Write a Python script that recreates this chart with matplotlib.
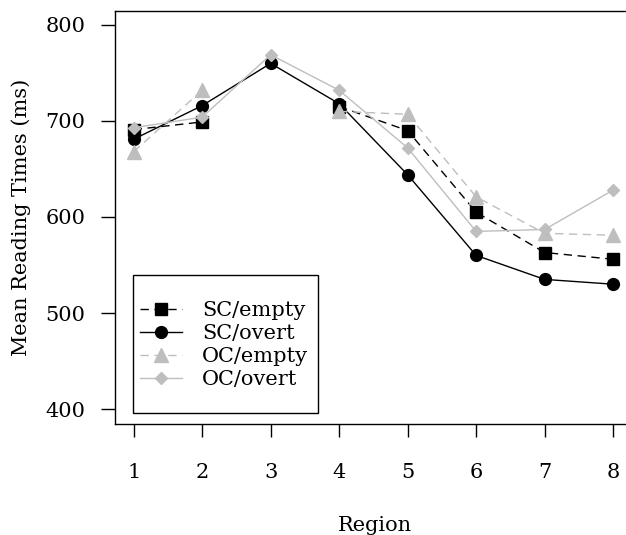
#!/usr/bin/env python
# -*- coding: utf-8 -*-

"""
Mean reading times by region for the four SC/OC conditions.
"""

import numpy as np
import matplotlib
matplotlib.use('Agg')
import matplotlib.pyplot as plt
from matplotlib.patches import Rectangle

regions = [1, 2, 3, 4, 5, 6, 7, 8]

sc_empty = [691, 699, np.nan, 715, 690, 605, 563, 556]
sc_overt = [681, 716, 760, 718, 644, 560, 535, 530]
oc_empty = [668, 732, np.nan, 710, 707, 621, 583, 581]
oc_overt = [693, 704, 769, 732, 672, 585, 587, 628]

GRAY = '#bebebe'


def main():
    plt.rcParams['font.family'] = ['DejaVu Serif']
    plt.rcParams['font.size'] = 15

    fig = plt.figure(figsize=(6.26, 5.35), dpi=100)
    ax = fig.add_axes([0.1832, 0.2075, 0.831, 0.772])

    ax.plot(regions, sc_empty, color='black', ls=(0, (6, 4)), lw=1.0,
            marker='s', ms=8, label='SC/empty')
    ax.plot(regions, sc_overt, color='black', ls='-', lw=1.0,
            marker='o', ms=8.5, label='SC/overt')
    ax.plot(regions, oc_empty, color=GRAY, ls=(0, (6, 4)), lw=1.0,
            marker='^', ms=9.5, label='OC/empty')
    ax.plot(regions, oc_overt, color=GRAY, ls='-', lw=1.0,
            marker='D', ms=6, label='OC/overt')

    ax.set_xlim(0.723, 8.318)
    ax.set_ylim(384.4, 814.6)
    ax.set_xticks(regions)
    ax.set_yticks([400, 500, 600, 700, 800])

    for s in ax.spines.values():
        s.set_linewidth(1.0)
    ax.tick_params(axis='y', direction='out', length=10, width=1.0, pad=11)
    ax.tick_params(axis='x', direction='out', length=9, width=1.0, pad=19)

    ax.set_xlabel('Region')
    ax.set_ylabel('Mean Reading Times (ms)')
    ax.xaxis.set_label_coords(0.5, -0.222)
    ax.yaxis.set_label_coords(-0.16, 0.5)

    # R-style legend box: roomy top/bottom, tight sides
    ax.add_patch(Rectangle((0.0352, 0.0266), 0.3556, 0.3342,
                           transform=ax.transAxes, fill=True, fc='white',
                           ec='black', lw=1.0, zorder=4))
    leg = ax.legend(loc='center left', bbox_to_anchor=(0.0352, 0.191),
                    numpoints=1, frameon=False, handlelength=2.0,
                    handletextpad=1.0, labelspacing=0.19, borderpad=0.33,
                    borderaxespad=0)
    leg.set_zorder(5)

    plt.savefig('out.png', dpi=100)


if __name__ == "__main__":
    main()
